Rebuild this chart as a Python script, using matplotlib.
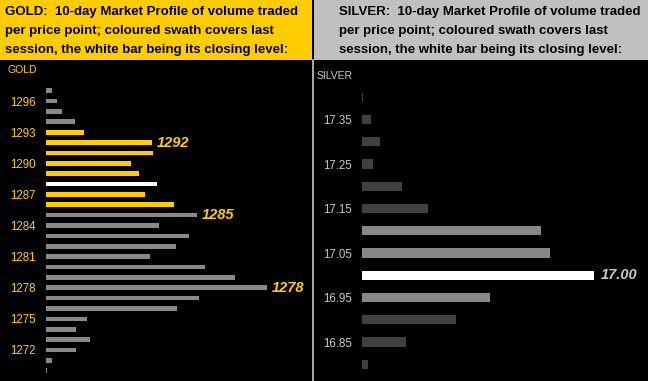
import matplotlib
matplotlib.use("Agg")
import matplotlib.pyplot as plt
from matplotlib.patches import Rectangle

plt.rcParams['font.family'] = ['Liberation Sans', 'DejaVu Sans']

W, H = 648, 381
DPI = 100

# ---------------- data ----------------
gold_prices = list(range(1297, 1269, -1))
gold_volume = [6, 11, 16, 29, 38, 106, 107, 85, 93, 111, 99, 128, 151, 113,
               143, 130, 104, 159, 189, 221, 153, 131, 41, 30, 44, 30, 6, 1]
gold_session_high = 1293
gold_session_low = 1286
gold_close = 1288
gold_ticks = [1296, 1293, 1290, 1287, 1284, 1281, 1278, 1275, 1272]
gold_labels = [1292, 1285, 1278]

silver_prices = [17.40, 17.35, 17.30, 17.25, 17.20, 17.15, 17.10, 17.05,
                 17.00, 16.95, 16.90, 16.85, 16.80]
silver_volume = [1, 9, 18, 11, 40, 66, 179, 188, 232, 128, 94, 44, 6]
silver_session_high = 17.10
silver_session_low = 16.95
silver_close = 17.00
silver_ticks = [17.35, 17.25, 17.15, 17.05, 16.95, 16.85]
silver_labels = [17.00]

gold_title = ["GOLD:  10-day Market Profile of volume traded",
              "per price point; coloured swath covers last",
              "session, the white bar being its closing level:"]
silver_title = ["SILVER:  10-day Market Profile of volume traded",
                "per price point; coloured swath covers last",
                "session, the white bar being its closing level:"]

# ---------------- figure ----------------
fig = plt.figure(figsize=(W / DPI, H / DPI), dpi=DPI, facecolor='black')

def fx(px):
    return px / W

def fy(py):
    return 1 - py / H

# header boxes
fig.patches.append(Rectangle((0, fy(60)), fx(312), 60 / H, transform=fig.transFigure,
                             facecolor='#FFCC00', edgecolor='none', zorder=0))
fig.patches.append(Rectangle((fx(314), fy(60)), fx(W - 314), 60 / H, transform=fig.transFigure,
                             facecolor='#C0C0C0', edgecolor='none', zorder=0))
# separator
fig.add_artist(plt.Line2D([fx(312.5), fx(312.5)], [0, fy(60)], transform=fig.transFigure,
                          color='#C8C8C8', lw=1.2))

line_y = [12, 31, 50]
for txt, yy in zip(gold_title, line_y):
    fig.text(fx(5), fy(yy), txt, ha='left', va='center', fontsize=9.5,
             fontweight='bold', color='black')
for txt, yy in zip(silver_title, line_y):
    fig.text(fx(339), fy(yy), txt, ha='left', va='center', fontsize=9.5,
             fontweight='bold', color='black')

fig.text(fx(8), fy(70), "GOLD", ha='left', va='center', fontsize=7.5, color='#FFCC00')
fig.text(fx(317), fy(76), "SILVER", ha='left', va='center', fontsize=7.5, color='#C8C8C8')

# ---------------- gold panel ----------------
top_px, bot_px = 62, 381
g_left, g_right = 46, 311
axg = fig.add_axes([fx(g_left), 0, fx(g_right - g_left), (bot_px - top_px) / H])
axg.set_facecolor('black')
step_g = (370.7 - 90.7) / 27.0
axg.set_ylim(1270 - (bot_px - 370.7) / step_g, 1297 + (90.7 - top_px) / step_g)
axg.set_xlim(0, g_right - g_left)

gcols = []
for p in gold_prices:
    if p == gold_close:
        gcols.append('#FFFFFF')
    elif gold_session_low <= p <= gold_session_high:
        gcols.append('#FFCC00')
    else:
        gcols.append('#888888')
axg.barh(gold_prices, gold_volume, height=0.45, color=gcols, edgecolor='none')
for p in gold_labels:
    v = gold_volume[gold_prices.index(p)]
    axg.text(v + 5, p, f"{p}", ha='left', va='center', fontsize=10.5,
             fontweight='bold', fontstyle='italic', color='#FFCC00')

axg.set_yticks(gold_ticks)
axg.set_yticklabels([str(t) for t in gold_ticks])
axg.tick_params(axis='y', length=0, pad=7.5, labelsize=8.3, labelcolor='#FFCC00')
axg.set_xticks([])
for s in axg.spines.values():
    s.set_visible(False)

# ---------------- silver panel ----------------
s_left, s_right = 362, 648
axs = fig.add_axes([fx(s_left), 0, fx(s_right - s_left), (bot_px - top_px) / H])
axs.set_facecolor('black')
step_s = (364.3 - 97.3) / 12.0
axs.set_ylim(16.80 - (bot_px - 364.3) / step_s * 0.05,
             17.40 + (97.3 - top_px) / step_s * 0.05)
axs.set_xlim(0, s_right - s_left)

scols = []
for p in silver_prices:
    if abs(p - silver_close) < 1e-9:
        scols.append('#FFFFFF')
    elif silver_session_low - 1e-9 <= p <= silver_session_high + 1e-9:
        scols.append('#888888')
    else:
        scols.append('#404040')
axs.barh(silver_prices, silver_volume, height=0.05 * 0.42, color=scols, edgecolor='none')
for p in silver_labels:
    i = min(range(len(silver_prices)), key=lambda k: abs(silver_prices[k] - p))
    axs.text(silver_volume[i] + 7, p, f"{p:.2f}", ha='left', va='center', fontsize=10.5,
             fontweight='bold', fontstyle='italic', color='#C8C8C8')

axs.set_yticks(silver_ticks)
axs.set_yticklabels([f"{t:.2f}" for t in silver_ticks])
axs.tick_params(axis='y', length=0, pad=7.5, labelsize=8.3, labelcolor='#C8C8C8')
axs.set_xticks([])
for s in axs.spines.values():
    s.set_visible(False)

fig.savefig("out.png", dpi=DPI, facecolor='black')
